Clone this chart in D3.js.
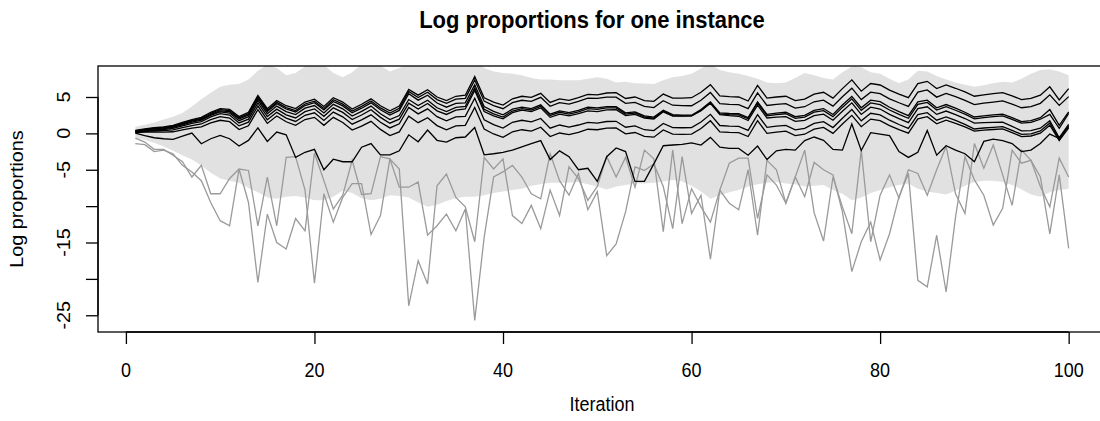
<!DOCTYPE html>
<html>
<head>
<meta charset="utf-8">
<script src="https://cdn.jsdelivr.net/npm/d3@7"></script>
<style>
  body { margin: 0; background: #fff; }
  svg text { font-family: "Liberation Sans", Arial, Helvetica, sans-serif; fill: #000; }
</style>
</head>
<body>
<div id="chart"></div>
<script>
// iterations 1..100
const iterations = d3.range(1, 101);

// gray band (upper / lower envelope)
const bandUpper = [0.9,1.2,1.5,1.9,2.3,2.8,3.7,4.7,5.6,6.4,
  6.7,6.8,7.4,8.6,9.4,9.0,8.0,8.3,9.2,9.5,
  9.4,8.3,7.7,8.4,9.5,9.5,9.3,8.5,9.0,9.6,
  9.8,9.8,9.6,9.6,9.7,9.8,10.5,9.0,8.5,8.3,
  8.2,8.0,7.6,7.4,7.4,7.3,7.3,7.3,7.5,7.7,
  7.5,7.0,7.1,6.9,6.85,6.8,7.3,7.7,7.9,8.2,
  8.9,9.5,8.7,8.4,8.2,7.9,7.5,7.0,6.9,7.0,
  7.6,8.3,8.0,7.6,7.4,8.4,9.2,9.1,8.4,8.2,
  7.5,6.9,7.4,8.6,8.5,7.9,7.4,7.0,6.7,6.4,
  6.6,6.9,7.1,7.0,7.5,8.2,8.7,8.8,8.5,8.0];
const bandLower = [-0.6,-0.9,-1.3,-1.8,-2.4,-3.0,-3.6,-4.4,-5.4,-6.2,
  -6.5,-6.8,-7.5,-8.1,-8.8,-9.0,-8.7,-8.6,-8.8,-9.2,
  -9.2,-8.7,-7.9,-8.2,-8.9,-9.2,-9.0,-8.5,-8.6,-8.8,
  -9.5,-10.1,-9.8,-9.3,-8.9,-8.7,-8.7,-8.5,-8.2,-8.0,
  -7.8,-7.6,-7.2,-7.0,-6.8,-6.8,-6.8,-6.7,-7.0,-7.3,
  -7.7,-7.3,-7.1,-6.9,-6.9,-6.8,-6.6,-6.4,-6.6,-7.2,
  -8.0,-9.0,-8.5,-8.1,-7.8,-7.3,-7.0,-6.8,-6.7,-6.9,
  -7.0,-7.3,-7.2,-7.1,-7.8,-8.3,-9.2,-8.8,-8.2,-7.8,
  -7.4,-7.1,-6.9,-7.6,-8.0,-8.2,-8.4,-7.9,-7.2,-6.7,
  -6.5,-6.5,-6.7,-7.1,-7.7,-8.4,-8.7,-8.1,-7.8,-7.6];

// black series
const black1 = [0.4,0.6,0.8,0.9,1.1,1.5,1.9,2.2,2.9,3.4,
  3.3,2.3,2.9,5.2,3.4,4.5,3.8,3.4,4.3,4.7,
  3.7,4.9,4.3,3.35,4.0,4.75,3.8,3.1,3.75,6.05,
  5.25,6.0,5.0,4.5,5.1,5.25,7.8,4.9,4.3,3.9,
  4.75,5.1,4.95,5.5,4.25,4.75,4.55,4.9,5.35,5.3,
  5.55,5.6,4.8,5.0,4.5,4.4,5.4,4.85,4.85,4.9,
  5.65,6.7,5.15,5.05,5.0,4.45,6.6,4.85,5.0,5.1,
  4.5,4.7,5.4,5.65,4.85,6.15,7.35,5.8,6.85,6.65,
  5.95,5.4,4.9,6.85,7.15,6.15,6.65,6.2,5.7,5.1,
  5.3,5.45,5.6,5.15,4.65,4.8,5.25,6.4,4.6,6.15];
const black2 = [0.35,0.54,0.73,0.82,1.0,1.39,1.78,2.07,2.76,3.25,
  3.14,2.12,2.71,4.99,3.18,4.26,3.55,3.14,4.04,4.43,
  3.43,4.62,4.02,3.06,3.71,4.45,3.5,2.8,3.45,5.75,
  4.93,5.66,4.64,4.12,4.7,4.82,7.35,4.43,3.81,3.39,
  4.22,4.55,4.41,4.96,3.72,4.22,4.03,4.39,4.84,4.8,
  4.99,4.98,4.12,4.26,3.7,3.54,4.48,3.87,3.81,3.8,
  4.56,5.62,4.08,3.99,3.95,3.41,5.57,3.83,3.99,4.1,
  3.48,3.66,4.34,4.57,3.75,5.03,6.21,4.64,5.67,5.45,
  4.75,4.21,3.71,5.67,5.97,4.98,5.48,5.04,4.54,3.95,
  4.15,4.3,4.46,4.01,3.52,3.67,4.13,5.29,3.85,5.05];
const black3 = [0.3,0.48,0.66,0.73,0.91,1.29,1.67,1.94,2.62,3.1,
  2.98,1.96,2.54,4.81,2.99,4.07,3.35,2.94,3.83,4.22,
  3.21,4.39,3.78,2.82,3.46,4.2,3.24,2.52,3.16,5.45,
  4.57,5.25,4.17,3.6,4.12,4.2,6.67,3.7,3.02,2.55,
  3.32,3.6,3.41,3.92,2.64,3.1,2.86,3.17,3.59,3.5,
  3.69,3.68,2.82,2.96,2.4,2.24,3.18,2.57,2.51,2.5,
  3.27,4.34,2.81,2.73,2.7,2.17,4.34,2.61,2.78,2.9,
  2.29,2.48,3.17,3.41,2.6,3.89,5.08,3.52,4.56,4.35,
  3.59,2.99,2.43,4.33,4.57,3.52,3.96,3.46,2.9,2.25,
  2.41,2.53,2.64,2.16,1.62,1.74,2.15,3.27,1.1,2.95];
const black4 = [0.25,0.42,0.58,0.65,0.82,1.18,1.55,1.82,2.48,2.95,
  2.8,1.75,2.3,4.55,2.7,3.75,3.0,2.58,3.46,3.83,
  2.81,3.99,3.37,2.39,3.02,3.75,2.7,1.9,2.45,4.65,
  3.82,4.55,3.52,3.0,3.57,3.7,6.22,3.3,2.67,2.25,
  3.07,3.4,3.21,3.72,2.44,2.9,2.66,2.97,3.39,3.3,
  3.5,3.5,2.65,2.8,2.25,2.1,3.05,2.45,2.4,2.4,
  3.16,4.22,2.68,2.59,2.55,2.01,4.17,2.43,2.59,2.7,
  2.07,2.24,2.91,3.13,2.3,3.57,4.74,3.16,4.18,3.95,
  3.21,2.62,2.08,3.99,4.25,3.21,3.67,3.18,2.64,2.0,
  2.17,2.29,2.41,1.93,1.4,1.52,1.94,2.6,0.7,2.75];
const black5 = [0.2,0.34,0.49,0.53,0.68,1.02,1.37,1.61,2.26,2.7,
  2.52,1.44,1.96,4.19,2.31,3.33,2.55,2.12,2.99,3.37,
  2.34,3.51,2.88,1.91,2.53,3.25,2.2,1.4,1.95,4.15,
  3.35,4.1,3.1,2.6,3.2,3.35,5.9,3.0,2.4,2.0,
  2.85,3.2,3.0,3.5,2.2,2.65,2.4,2.7,3.1,3.0,
  3.23,3.26,2.44,2.62,2.1,1.98,2.96,2.39,2.37,2.4,
  3.12,4.14,2.56,2.43,2.35,1.77,3.89,2.11,2.23,2.3,
  1.65,1.8,2.45,2.65,1.8,3.05,4.2,2.6,3.6,3.35,
  2.61,2.02,1.48,3.39,3.65,2.61,3.07,2.58,2.04,1.4,
  1.48,1.51,1.54,0.97,0.35,0.38,0.71,1.74,-0.6,1.25];
const black6 = [0.15,0.26,0.36,0.37,0.47,0.78,1.08,1.29,1.89,2.3,
  2.11,1.03,1.54,3.76,1.87,2.89,2.1,1.64,2.49,2.83,
  1.78,2.92,2.27,1.26,1.86,2.55,1.52,0.75,1.32,3.55,
  2.68,3.37,2.3,1.73,2.27,2.35,4.83,1.87,1.2,0.73,
  1.52,1.8,1.57,2.05,0.72,1.15,0.87,1.15,1.52,1.4,
  1.63,1.66,0.84,1.02,0.5,0.38,1.36,0.79,0.77,0.8,
  1.56,2.62,1.08,0.99,0.95,0.41,2.57,0.83,0.99,1.1,
  0.49,0.68,1.37,1.61,0.8,2.09,3.28,1.72,2.76,2.55,
  1.81,1.22,0.68,2.59,2.85,1.81,2.27,1.78,1.24,0.6,
  0.74,0.83,0.92,0.41,-0.15,-0.06,0.33,1.42,-0.8,1.05];
const black7 = [0.1,0.16,0.21,0.17,0.22,0.48,0.73,0.89,1.44,1.8,
  1.61,0.53,1.04,3.26,1.37,2.39,1.6,1.1,1.9,2.2,
  1.1,2.2,1.5,0.45,1.0,1.65,0.55,-0.3,0.2,2.35,
  1.47,2.15,1.07,0.5,1.02,1.1,3.57,0.6,-0.08,-0.55,
  0.22,0.5,0.32,0.85,-0.43,0.05,-0.18,0.15,0.57,0.5,
  0.73,0.76,-0.06,0.12,-0.4,-0.52,0.46,-0.11,-0.13,-0.1,
  0.67,1.74,0.21,0.13,0.1,-0.43,1.74,0.01,0.18,0.3,
  -0.31,-0.12,0.57,0.81,0.0,1.29,2.48,0.92,1.96,1.75,
  1.06,0.52,0.03,1.99,2.3,1.31,1.82,1.38,0.89,0.3,
  0.44,0.53,0.62,0.11,-0.45,-0.36,0.03,1.12,-1.0,0.75];
const black8 = [0.04,-0.3,-0.6,-0.74,-0.83,-0.37,0.04,-1.42,-0.74,-0.28,
  -0.74,-1.74,-0.97,0.77,-1.1,0.18,-0.2,-3.3,-2.6,-2.2,
  -5.0,-3.55,-3.9,-3.9,-1.9,-1.4,-2.95,-2.95,-2.4,-0.2,
  -1.15,0.45,-0.95,-1.2,-0.6,-0.5,0.8,-2.95,-2.8,-2.6,
  -2.3,-1.85,-1.4,-1.0,-3.6,-2.4,-3.2,-5.0,-4.8,-6.6,
  -3.2,-2.0,-2.5,-6.6,-6.6,-4.2,-1.7,-1.6,-1.5,-1.3,
  -1.6,-0.55,-1.9,-2.07,-2.07,-3.0,-1.75,-3.6,-2.4,-2.2,
  -2.3,-1.0,-0.5,-0.95,-2.2,-2.3,1.3,-2.35,0.1,-0.1,
  -0.3,-2.5,-3.3,-2.6,0.4,-3.0,-1.7,-2.3,-2.8,-3.9,
  -1.1,-0.8,-1.0,-1.4,-2.5,-2.3,-1.4,-0.1,-0.7,0.9];

// gray series
const gray1 = [-0.65,-1.2,-2.2,-2.2,-3.0,-3.9,-6.0,-4.4,-8.3,-8.3,
  -6.2,-4.9,-5.1,-12.7,-6.0,-12.7,-3.3,-3.2,-7.8,-20.6,
  -8.3,-12.2,-8.8,-6.9,-6.9,-13.9,-11.3,-3.5,-4.9,-23.7,
  -17.5,-20.7,-7.2,-5.6,-8.8,-10.1,-14.9,-3.3,-4.9,-3.5,
  -11.3,-12.4,-9.9,-13.1,-7.8,-11.3,-4.6,-6.2,-9.2,-7.3,
  -3.2,-6.0,-3.3,-7.4,-2.3,-3.5,-13.5,-2.3,-12.4,-7.6,
  -10.1,-12.2,-7.8,-9.6,-10.5,-5.0,-14.0,-3.7,-5.0,-9.6,
  -6.0,-8.7,-4.0,-5.0,-5.7,-10.8,-19.0,-14.9,-12.2,-17.4,
  -13.8,-8.7,-5.5,-20.2,-21.1,-14.0,-21.8,-11.5,-3.2,-6.4,
  -8.5,-12.6,-10.3,-2.3,-4.1,-3.7,-6.0,-13.8,-5.7,-15.8];
const gray2 = [-1.4,-1.55,-2.5,-2.3,-2.8,-4.4,-5.3,-6.5,-9.5,-12.0,
  -12.7,-4.9,-9.5,-20.5,-11.1,-15.0,-15.9,-11.7,-13.4,-2.7,
  -6.5,-10.4,-8.5,-3.7,-8.4,-8.3,-3.2,-3.5,-7.4,-7.4,
  -6.7,-14.0,-12.7,-11.1,-13.4,-10.4,-25.7,-14.3,-6.0,-5.3,
  -4.4,-6.0,-8.3,-9.0,-2.8,-6.5,-8.5,-5.5,-10.5,-8.0,
  -16.8,-15.2,-10.8,-4.6,-5.1,-4.2,-7.3,-13.1,-3.2,-11.0,
  -8.5,-17.3,-7.8,-4.1,-3.4,-3.4,-11.7,-5.7,-7.1,-9.6,
  -6.0,-2.3,-10.9,-14.8,-6.0,-10.1,-13.8,-2.3,-14.9,-8.5,
  -5.7,-8.9,-5.0,-5.5,-8.5,-5.0,-1.8,-8.3,-11.0,-1.4,
  -4.8,-1.6,-5.7,-9.9,-2.3,-3.7,-7.3,-10.1,-3.4,-6.0];

const blackSeries = [black1, black2, black3, black4, black5, black6, black7, black8];
const graySeries = [gray1, gray2];

// axes
const xTicks = [0, 20, 40, 60, 80, 100];
const yTicks = [-25, -20, -15, -10, -5, 0, 5];
const yTickLabels = [5, 0, -5, -15, -25];   // R drops the labels that would overlap

const width = 1100, height = 421;
const margin = {top: 66, right: -6, bottom: 89, left: 98};
const TEXT_SY = 1.1;  // the picture is a little stretched vertically

const svg = d3.select('#chart').append('svg')
  .attr('width', width)
  .attr('height', height);

// R style: 4% padding on both ends
const xPad = 0.04 * (d3.max(iterations) - d3.min(iterations));
const xScale = d3.scaleLinear()
  .domain([d3.min(iterations) - xPad, d3.max(iterations) + xPad])
  .range([margin.left, width - margin.right]);

const yScale = d3.scaleLinear()
  .domain([-27.3, 9.26])
  .range([height - margin.bottom, margin.top]);

svg.append('clipPath').attr('id', 'plot-clip')
  .append('rect')
  .attr('x', margin.left)
  .attr('y', margin.top)
  .attr('width', width - margin.right - margin.left)
  .attr('height', height - margin.bottom - margin.top);

const plot = svg.append('g').attr('clip-path', 'url(#plot-clip)');

// band
const area = d3.area()
  .x((d, i) => xScale(iterations[i]))
  .y0((d, i) => yScale(bandLower[i]))
  .y1((d) => yScale(d));
plot.append('path')
  .datum(bandUpper)
  .attr('d', area)
  .attr('fill', '#e1e1e1');

const line = d3.line()
  .x((d, i) => xScale(iterations[i]))
  .y((d) => yScale(d));

plot.selectAll('path.gray-line')
  .data(graySeries)
  .enter().append('path')
  .attr('class', 'gray-line')
  .attr('d', line)
  .attr('fill', 'none')
  .attr('stroke', '#9a9a9a')
  .attr('stroke-width', 1.3);

plot.selectAll('path.black-line')
  .data(blackSeries)
  .enter().append('path')
  .attr('class', 'black-line')
  .attr('d', line)
  .attr('fill', 'none')
  .attr('stroke', '#000')
  .attr('stroke-width', 1.3);

// box
svg.append('rect')
  .attr('x', margin.left)
  .attr('y', margin.top)
  .attr('width', width - margin.right - margin.left)
  .attr('height', height - margin.bottom - margin.top)
  .attr('fill', 'none')
  .attr('stroke', '#000')
  .attr('stroke-width', 1.3);

// helper for stretched text
function addText(x, y, txt, opts) {
  opts = opts || {};
  let tr = 'translate(' + x + ',' + y + ') scale(1,' + TEXT_SY + ')';
  if (opts.rotate) tr += ' rotate(' + opts.rotate + ')';
  return svg.append('text')
    .attr('transform', tr)
    .attr('text-anchor', 'middle')
    .style('font-size', (opts.size || 18) + 'px')
    .style('font-weight', opts.bold ? 'bold' : 'normal')
    .text(txt);
}

// x axis
const xAxis = d3.axisBottom(xScale)
  .tickValues(xTicks)
  .tickSize(12)
  .tickFormat('');
const gx = svg.append('g')
  .attr('transform', 'translate(0,' + (height - margin.bottom) + ')')
  .call(xAxis);
gx.select('.domain').attr('d', 'M' + xScale(xTicks[0]) + ',0H' + xScale(xTicks[xTicks.length - 1]));
gx.selectAll('line, path').attr('stroke', '#000').attr('stroke-width', 1.3);
xTicks.forEach((t) => addText(xScale(t), 377, t));

// y axis
const yAxis = d3.axisLeft(yScale)
  .tickValues(yTicks)
  .tickSize(12)
  .tickFormat('');
const gy = svg.append('g')
  .attr('transform', 'translate(' + margin.left + ',0)')
  .call(yAxis);
gy.select('.domain').attr('d', 'M0,' + yScale(yTicks[0]) + 'V' + yScale(yTicks[yTicks.length - 1]));
gy.selectAll('line, path').attr('stroke', '#000').attr('stroke-width', 1.3);
yTickLabels.forEach((t) => addText(70, yScale(t), t, {rotate: -90}));

// titles
addText(592, 28, 'Log proportions for one instance', {size: 22, bold: true});
addText(602, 411, 'Iteration');
addText(23, 199, 'Log proportions', {rotate: -90});
</script>
</body>
</html>
